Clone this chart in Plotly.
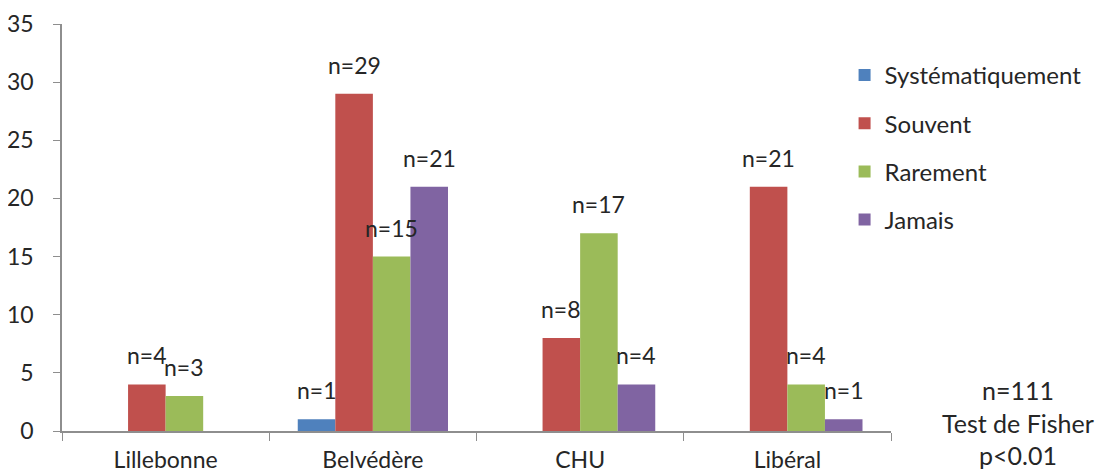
import plotly.graph_objects as go

sites = ["Lillebonne", "Belvédère", "CHU", "Libéral"]
series_names = ["Systématiquement", "Souvent", "Rarement", "Jamais"]
systematiquement = [0, 1, 0, 0]
souvent = [4, 29, 8, 21]
rarement = [3, 15, 17, 4]
jamais = [0, 21, 4, 1]
colors = ["#4F81BD", "#C0504D", "#9BBB59", "#8064A2"]

font_family = "Lato, 'Open Sans', sans-serif"
text_color = "#262626"
axis_grey = "#8e8e8e"
bargap = 0.275

all_series = [systematiquement, souvent, rarement, jamais]

fig = go.Figure()
for name, vals, col in zip(series_names, all_series, colors):
    fig.add_trace(go.Bar(x=sites, y=vals, name=name, marker_color=col,
                         marker_line_width=0, legendgroup=name))

# "n=.." labels sitting above each bar (Excel-like gap above the bar)
bar_w = (1 - bargap) / len(all_series)
for i, vals in enumerate(all_series):
    for j, v in enumerate(vals):
        if v == 0:
            continue
        fig.add_annotation(x=j + (i - 1.5) * bar_w, y=v, xref="x", yref="y",
                           text="n=%d" % v, showarrow=False,
                           xanchor="center", yanchor="bottom", yshift=13,
                           font=dict(size=23, color=text_color, family=font_family))

fig.update_layout(
    width=1096, height=467,
    margin=dict(l=54, r=213, t=16, b=44),
    plot_bgcolor="white", paper_bgcolor="white",
    barmode="group", bargap=bargap, bargroupgap=0,
    font=dict(family=font_family, size=23, color=text_color),
    showlegend=True,
    legend=dict(x=0.944, xanchor="left", y=0.929, yanchor="top",
                traceorder="grouped", tracegroupgap=14,
                font=dict(size=24, color=text_color, family=font_family)),
)
fig.update_yaxes(range=[0, 35], dtick=5, showgrid=False, showline=True,
                 linecolor=axis_grey, linewidth=1.5, ticks="outside", ticklen=7,
                 tickcolor=axis_grey, tickfont=dict(size=23), zeroline=False,
                 ticklabelstandoff=15, automargin=False)
fig.update_xaxes(showline=True, linecolor=axis_grey, linewidth=1.5,
                 ticks="outside", ticklen=8, tickcolor=axis_grey, tickson="boundaries",
                 tickfont=dict(size=23), ticklabelstandoff=8, automargin=False)

fig.add_annotation(xref="paper", yref="paper", x=1.153, y=0.02, xanchor="center", yanchor="middle",
                   text="n=111<br>Test de Fisher<br>p<0.01", showarrow=False, align="center",
                   font=dict(size=25, color=text_color, family=font_family))

fig.write_html("out.html")
